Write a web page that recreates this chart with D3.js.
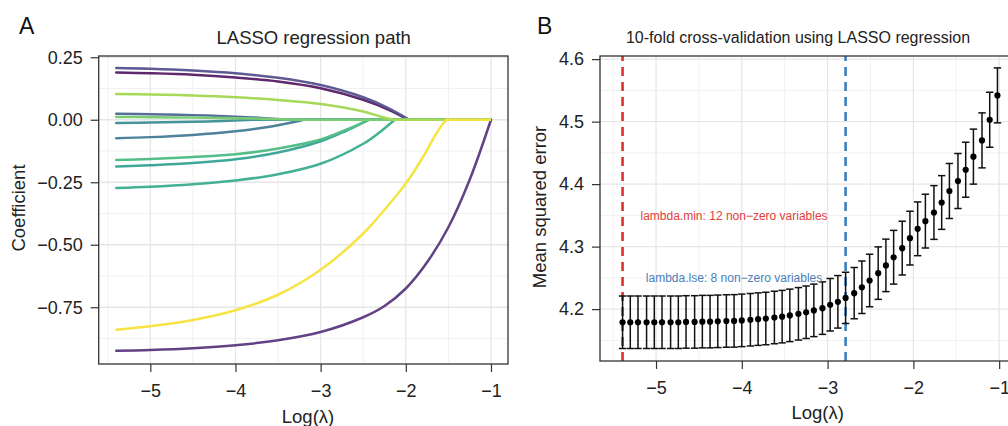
<!DOCTYPE html>
<html>
<head>
<meta charset="utf-8">
<script src="https://cdn.jsdelivr.net/npm/d3@7"></script>
<style>
  body { margin: 0; background: #fff; }
  text { font-family: "Liberation Sans", Arial, Helvetica, sans-serif; }
</style>
</head>
<body>
<svg id="fig" width="1008" height="426"></svg>
<script>
// ---- panel A: coefficient paths (knots, [logLambda, coef]) ----
const coefPaths = [
  { name: "V1",  knots: [[-5.4, 0.207], [-5, 0.204], [-4.5, 0.197], [-4, 0.186], [-3.5, 0.168], [-3, 0.139], [-2.5, 0.090], [-2.2, 0.046], [-1.96, 0]] },
  { name: "V2",  knots: [[-5.4, 0.189], [-5, 0.186], [-4.5, 0.180], [-4, 0.169], [-3.5, 0.153], [-3, 0.126], [-2.5, 0.080], [-2.2, 0.040], [-1.97, 0]] },
  { name: "V3",  knots: [[-5.4, 0.103], [-5, 0.101], [-4.5, 0.097], [-4, 0.090], [-3.5, 0.079], [-3, 0.063], [-2.5, 0.033], [-2.3, 0.013], [-2.15, 0]] },
  { name: "V4",  knots: [[-5.4, 0.024], [-5, 0.022], [-4.5, 0.0185], [-4, 0.0125], [-3.7, 0.0075], [-3.4, 0]] },
  { name: "V5",  knots: [[-5.4, 0.011], [-5, 0.0103], [-4.5, 0.0088], [-4, 0.0063], [-3.6, 0.0034], [-3.3, 0]] },
  { name: "V6",  knots: [[-5.4, -0.013], [-5, -0.0114], [-4.5, -0.0082], [-4, -0.003], [-3.8, 0]] },
  { name: "V7",  knots: [[-5.4, -0.074], [-5, -0.0695], [-4.5, -0.0606], [-4, -0.046], [-3.7, -0.033], [-3.5, -0.022], [-3.3, -0.0083], [-3.2, 0]] },
  { name: "V8",  knots: [[-5.4, -0.161], [-5, -0.157], [-4.5, -0.149], [-4, -0.138], [-3.5, -0.115], [-3, -0.079], [-2.7, -0.040], [-2.55, -0.019], [-2.43, 0]] },
  { name: "V9",  knots: [[-5.4, -0.187], [-5, -0.182], [-4.5, -0.173], [-4, -0.158], [-3.5, -0.131], [-3, -0.086], [-2.7, -0.044], [-2.55, -0.020], [-2.45, 0]] },
  { name: "V10", knots: [[-5.4, -0.273], [-5, -0.268], [-4.5, -0.258], [-4, -0.243], [-3.5, -0.218], [-3, -0.176], [-2.5, -0.096], [-2.3, -0.048], [-2.13, 0]] },
  { name: "V11", knots: [[-5.4, -0.840], [-5, -0.826], [-4.5, -0.801], [-4, -0.762], [-3.5, -0.700], [-3, -0.600], [-2.5, -0.455], [-2.25, -0.36], [-2, -0.255], [-1.8, -0.15], [-1.65, -0.06], [-1.55, -0.01], [-1.52, 0]] },
  { name: "V12", knots: [[-5.4, -0.924], [-5, -0.921], [-4.5, -0.914], [-4, -0.902], [-3.5, -0.882], [-3, -0.849], [-2.5, -0.79], [-2.25, -0.745], [-2, -0.675], [-1.75, -0.57], [-1.5, -0.43], [-1.25, -0.24], [-1.0, 0]] }
];
const pathEndLambda = -1.0;
// viridis position of each variable's colour
const pathColorPos = [0.18, 0.0, 0.85, 0.27, 0.76, 0.45, 0.36, 0.67, 0.55, 0.6, 1.0, 0.09];
// draw order (yellow last, like the original)
const pathOrder = [1, 11, 0, 3, 6, 5, 8, 9, 7, 4, 2, 10];

// ---- panel B: 10-fold cross-validation ----
const cvLogLambda = [-5.39, -5.30, -5.21, -5.11, -5.02, -4.93, -4.83, -4.74, -4.65, -4.55, -4.46, -4.37,
  -4.28, -4.18, -4.09, -4.00, -3.90, -3.81, -3.72, -3.62, -3.53, -3.44, -3.34, -3.25, -3.16, -3.06,
  -2.97, -2.88, -2.79, -2.69, -2.60, -2.51, -2.41, -2.32, -2.23, -2.13, -2.04, -1.95, -1.86, -1.76,
  -1.67, -1.58, -1.48, -1.39, -1.30, -1.20, -1.11, -1.02];
const cvMean = [4.179, 4.179, 4.179, 4.179, 4.179, 4.179, 4.179, 4.179, 4.1795, 4.1795, 4.180, 4.180,
  4.1805, 4.181, 4.1812, 4.182, 4.183, 4.184, 4.185, 4.1866, 4.188, 4.190, 4.1925, 4.195, 4.198, 4.2016,
  4.207, 4.2117, 4.218, 4.2256, 4.235, 4.2458, 4.2576, 4.270, 4.283, 4.2976, 4.3136, 4.3285, 4.3408, 4.3546,
  4.3706, 4.389, 4.405, 4.423, 4.444, 4.470, 4.503, 4.542];
const cvSE = [0.042, 0.042, 0.042, 0.042, 0.042, 0.042, 0.042, 0.042, 0.042, 0.042, 0.042, 0.042,
  0.042, 0.042, 0.042, 0.042, 0.042, 0.042, 0.042, 0.042, 0.042, 0.042, 0.042, 0.042, 0.042, 0.042,
  0.042, 0.042, 0.041, 0.041, 0.042, 0.042, 0.042, 0.042, 0.043, 0.043, 0.043, 0.043, 0.043, 0.043,
  0.043, 0.044, 0.044, 0.044, 0.044, 0.044, 0.044, 0.044];
const lambdaMin = -5.39;
const lambda1se = -2.79;
const minLabel = "lambda.min: 12 non\u2212zero variables";
const seLabel = "lambda.lse: 8 non\u2212zero variables";

const xTicks = [-5, -4, -3, -2, -1];
const xMinor = [-5.5, -4.5, -3.5, -2.5, -1.5];
const yTicksA = [0.25, 0, -0.25, -0.5, -0.75];
const yMinorA = [0.125, -0.125, -0.375, -0.625, -0.875];
const yTicksB = [4.2, 4.3, 4.4, 4.5, 4.6];
const yMinorB = [4.15, 4.25, 4.35, 4.45, 4.55];

const svg = d3.select("#fig");
svg.append("rect").attr("width", 1008).attr("height", 426).attr("fill", "#fff");

function frame(x, y, minorX, minorY, ticksX, ticksY, yFmt) {
    const g = svg.append("g");
    const [x0, x1] = x.range(), [y0, y1] = y.range();
    g.selectAll(".mx").data(minorX).enter().append("line")
        .attr("x1", d => x(d)).attr("x2", d => x(d)).attr("y1", y0).attr("y2", y1)
        .attr("stroke", "#f1f1f1").attr("stroke-width", 1);
    g.selectAll(".my").data(minorY).enter().append("line")
        .attr("x1", x0).attr("x2", x1).attr("y1", d => y(d)).attr("y2", d => y(d))
        .attr("stroke", "#f1f1f1").attr("stroke-width", 1);
    g.selectAll(".gx").data(ticksX).enter().append("line")
        .attr("x1", d => x(d)).attr("x2", d => x(d)).attr("y1", y0).attr("y2", y1)
        .attr("stroke", "#e6e6e6").attr("stroke-width", 1.3);
    g.selectAll(".gy").data(ticksY).enter().append("line")
        .attr("x1", x0).attr("x2", x1).attr("y1", d => y(d)).attr("y2", d => y(d))
        .attr("stroke", "#e6e6e6").attr("stroke-width", 1.3);

    const ax = svg.append("g").attr("transform", `translate(0,${y0})`)
        .call(d3.axisBottom(x).tickValues(ticksX).tickFormat(d3.format("d")).tickSize(8).tickPadding(12));
    const ay = svg.append("g").attr("transform", `translate(${x0},0)`)
        .call(d3.axisLeft(y).tickValues(ticksY).tickFormat(d3.format(yFmt)).tickSize(8).tickPadding(8));
    [ax, ay].forEach(a => {
        a.select(".domain").remove();
        a.selectAll("line").attr("stroke", "#333").attr("stroke-width", 1.2);
        a.selectAll("text").attr("fill", "#222").style("font-size", "18px")
            .style("font-family", '"Liberation Sans", Arial, sans-serif');
    });
    return g;
}

function border(x, y) {
    const [x0, x1] = x.range(), [y0, y1] = y.range();
    svg.append("rect").attr("x", x0).attr("y", y1).attr("width", x1 - x0).attr("height", y0 - y1)
        .attr("fill", "none").attr("stroke", "#333").attr("stroke-width", 1.3);
}

// ---------- Panel A ----------
const xA = d3.scaleLinear().domain([-5.606, -0.80]).range([98.7, 508]);
const yA = d3.scaleLinear().domain([-0.977, 0.255]).range([364, 56]);
frame(xA, yA, xMinor, yMinorA, xTicks, yTicksA, ".2f");

const viridisSoft = t => {
    const c = d3.color(d3.interpolateViridis(t));
    return d3.interpolateRgb(c, "#d8d8d8")(0.18);
};
const lineA = d3.line().x(d => xA(d[0])).y(d => yA(d[1])).curve(d3.curveCatmullRom.alpha(0.5));
const straightA = d3.line().x(d => xA(d[0])).y(d => yA(d[1]));
const gA = svg.append("g");
pathOrder.forEach(i => {
    const p = coefPaths[i];
    const col = viridisSoft(pathColorPos[i]);
    const last = p.knots[p.knots.length - 1];
    gA.append("path").attr("d", straightA([last, [pathEndLambda, 0]]))
        .attr("fill", "none").attr("stroke", col).attr("stroke-width", 2.5);
    gA.append("path").attr("d", lineA(p.knots))
        .attr("fill", "none").attr("stroke", col).attr("stroke-width", 2.5)
        .attr("stroke-linecap", "round");
});
border(xA, yA);

svg.append("text").attr("x", 313.7).attr("y", 44).attr("text-anchor", "middle")
    .style("font-size", "18.5px").attr("fill", "#222").text("LASSO regression path");
svg.append("text").attr("x", 308).attr("y", 423).attr("text-anchor", "middle")
    .style("font-size", "18.5px").attr("fill", "#222").text("Log(\u03bb)");
svg.append("text").attr("transform", "translate(25,208) rotate(-90)").attr("text-anchor", "middle")
    .style("font-size", "18.5px").attr("fill", "#222").text("Coefficient");
svg.append("text").attr("x", 19).attr("y", 33.5)
    .style("font-size", "23px").attr("fill", "#111").text("A");

// ---------- Panel B ----------
const xB = d3.scaleLinear().domain([-5.653, -0.757]).range([600, 1020]);
const yB = d3.scaleLinear().domain([4.117, 4.605]).range([361, 56]);
frame(xB, yB, xMinor, yMinorB, xTicks, yTicksB, ".1f");

const gB = svg.append("g");
[[lambdaMin, "#e0312f"], [lambda1se, "#3d7fbd"]].forEach(([v, c]) => {
    gB.append("line").attr("x1", xB(v)).attr("x2", xB(v)).attr("y1", yB.range()[0]).attr("y2", yB.range()[1])
        .attr("stroke", c).attr("stroke-width", 2.6).attr("stroke-dasharray", "9,6");
});

const cv = cvLogLambda.map((l, i) => ({ l, m: cvMean[i], se: cvSE[i] }));
const capHalf = 3.7;
const bars = gB.selectAll(".eb").data(cv).enter().append("g");
bars.append("line").attr("x1", d => xB(d.l)).attr("x2", d => xB(d.l))
    .attr("y1", d => yB(d.m - d.se)).attr("y2", d => yB(d.m + d.se))
    .attr("stroke", "#111").attr("stroke-width", 1.5);
bars.append("line").attr("x1", d => xB(d.l) - capHalf).attr("x2", d => xB(d.l) + capHalf)
    .attr("y1", d => yB(d.m + d.se)).attr("y2", d => yB(d.m + d.se))
    .attr("stroke", "#111").attr("stroke-width", 1.5);
bars.append("line").attr("x1", d => xB(d.l) - capHalf).attr("x2", d => xB(d.l) + capHalf)
    .attr("y1", d => yB(d.m - d.se)).attr("y2", d => yB(d.m - d.se))
    .attr("stroke", "#111").attr("stroke-width", 1.5);
bars.append("circle").attr("cx", d => xB(d.l)).attr("cy", d => yB(d.m)).attr("r", 3.1).attr("fill", "#000");

const midL = (lambdaMin + lambda1se) / 2;
svg.append("text").attr("x", xB(midL)).attr("y", yB(4.35)).attr("dy", "0.35em").attr("text-anchor", "middle")
    .style("font-size", "12px").attr("fill", "#e0413a").text(minLabel);
svg.append("text").attr("x", xB(midL)).attr("y", yB(4.25)).attr("dy", "0.35em").attr("text-anchor", "middle")
    .style("font-size", "12px").attr("fill", "#4a80bb").text(seLabel);

border(xB, yB);

svg.append("text").attr("x", 798).attr("y", 43).attr("text-anchor", "middle")
    .style("font-size", "16px").attr("fill", "#222").text("10-fold cross-validation using LASSO regression");
svg.append("text").attr("x", 817.7).attr("y", 419).attr("text-anchor", "middle")
    .style("font-size", "18.5px").attr("fill", "#222").text("Log(\u03bb)");
svg.append("text").attr("transform", "translate(546,207) rotate(-90)").attr("text-anchor", "middle")
    .style("font-size", "18.5px").attr("fill", "#222").text("Mean squared error");
svg.append("text").attr("x", 537).attr("y", 33.5)
    .style("font-size", "23px").attr("fill", "#111").text("B");
</script>
</body>
</html>
